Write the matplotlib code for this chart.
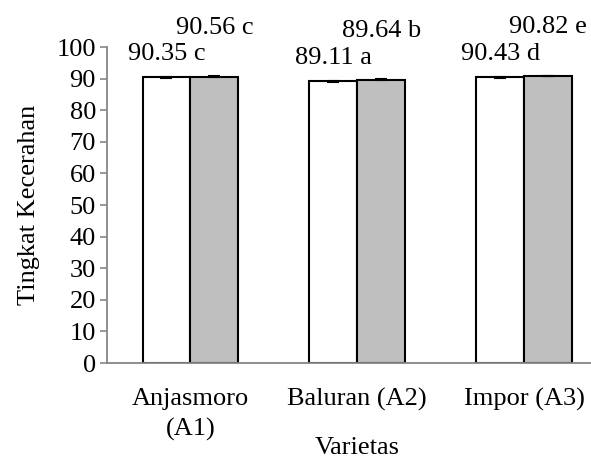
import matplotlib
matplotlib.use("Agg")
import matplotlib.pyplot as plt
import numpy as np

plt.rcParams["font.family"] = ["Liberation Serif", "DejaVu Serif"]

varietas = ["Anjasmoro\n(A1)", "Baluran (A2)", "Impor (A3)"]
seri1 = [90.35, 89.11, 90.43]
seri2 = [90.56, 89.64, 90.82]
err1 = [0.15, 0.15, 0.2]
err2 = [0.2, 0.2, 0.15]
label1 = ["90.35 c", "89.11 a", "90.43 d"]
label2 = ["90.56 c", "89.64 b", "90.82 e"]

fs = 19
fig = plt.figure(figsize=(5.91, 4.61), dpi=100)
ax = fig.add_axes([107 / 591, 1 - 363 / 461, 500.5 / 591, 316 / 461])

x = np.arange(len(varietas))
w = 0.287
ax.bar(x - w / 2, seri1, w, color="white", edgecolor="black", linewidth=1.5,
       yerr=err1, capsize=4, error_kw=dict(elinewidth=1.2, capthick=1.5))
ax.bar(x + w / 2, seri2, w, color="#bfbfbf", edgecolor="black", linewidth=1.5,
       yerr=err2, capsize=4, error_kw=dict(elinewidth=1.2, capthick=1.5))

for i in range(len(varietas)):
    ax.annotate(label1[i], (x[i] - w / 2, seri1[i]), xytext=(0, 17),
                textcoords="offset points", ha="center", va="center", fontsize=fs)
    ax.annotate(label2[i], (x[i] + w / 2, seri2[i]), xytext=(0, 35),
                textcoords="offset points", ha="center", va="center", fontsize=fs,
                annotation_clip=False)

ax.set_xlim(-0.5, 2.5)
ax.set_ylim(0, 100)
ax.set_yticks(range(0, 101, 10))
ax.set_xticks(x)
ax.set_xticklabels(varietas, fontsize=fs, linespacing=1.45)
ax.tick_params(axis="x", length=0, pad=18)
ax.tick_params(axis="y", labelsize=fs, length=5, width=1.2, color="#868686", direction="out", pad=3)
for s in ["top", "right"]:
    ax.spines[s].set_visible(False)
for s in ["left", "bottom"]:
    ax.spines[s].set_color("#868686")
    ax.spines[s].set_linewidth(1.3)

ax.set_ylabel("Tingkat Kecerahan", fontsize=fs, labelpad=12)
ax.set_xlabel("Varietas", fontsize=fs, labelpad=-3)

fig.savefig("out.png", dpi=100)
